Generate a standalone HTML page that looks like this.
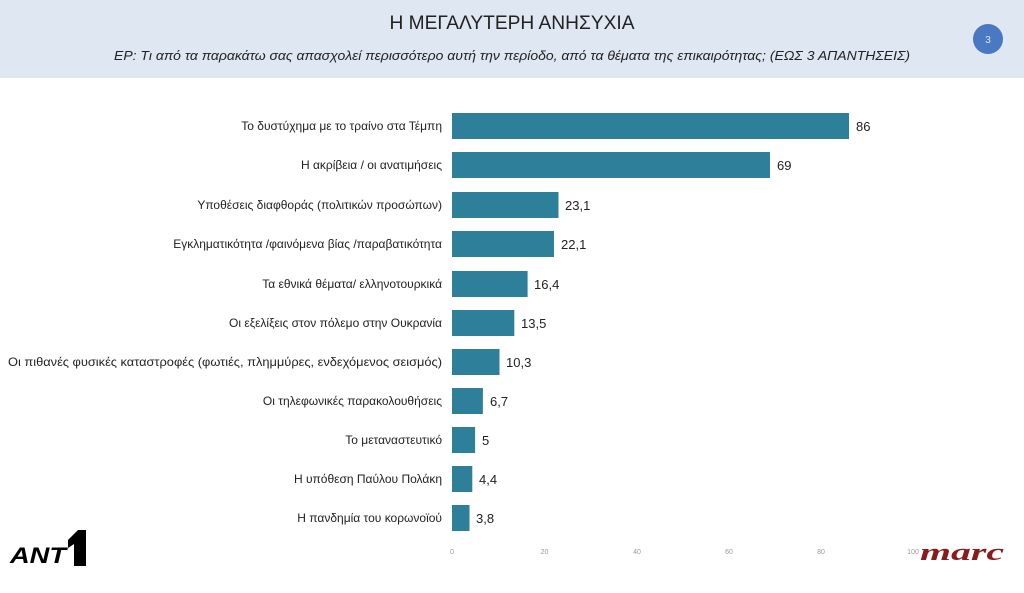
<!DOCTYPE html>
<html><head><meta charset="utf-8"><style>
html,body{margin:0;padding:0;background:#fff;}
svg{display:block;font-family:"Liberation Sans","DejaVu Sans",sans-serif;}
</style></head><body>
<svg width="1024" height="593" viewBox="0 0 1024 593" xmlns="http://www.w3.org/2000/svg">
<rect x="0" y="0" width="1024" height="78" fill="#dfe7f2"/>
<text x="512" y="29" text-anchor="middle" font-size="19" fill="#222" textLength="245" lengthAdjust="spacingAndGlyphs">Η ΜΕΓΑΛΥΤΕΡΗ ΑΝΗΣΥΧΙΑ</text>
<text x="512" y="60" text-anchor="middle" font-size="12.5" font-style="italic" fill="#222" textLength="796" lengthAdjust="spacingAndGlyphs">ΕΡ:  Τι από τα παρακάτω σας απασχολεί περισσότερο αυτή την περίοδο, από τα θέματα της επικαιρότητας; (ΕΩΣ 3 ΑΠΑΝΤΗΣΕΙΣ)</text>
<circle cx="988" cy="39" r="15" fill="#4a78c2"/>
<text x="988" y="43" text-anchor="middle" font-size="10" fill="#dde6f5">3</text>
<g font-size="12" fill="#222">
<g text-anchor="end">
<text x="442" y="130">Το δυστύχημα με το τραίνο στα Τέμπη</text>
<text x="442" y="169">Η ακρίβεια / οι ανατιμήσεις</text>
<text x="442" y="209">Υποθέσεις διαφθοράς (πολιτικών προσώπων)</text>
<text x="442" y="248">Εγκληματικότητα /φαινόμενα βίας /παραβατικότητα</text>
<text x="442" y="288">Τα εθνικά θέματα/ ελληνοτουρκικά</text>
<text x="442" y="327">Οι εξελίξεις στον  πόλεμο στην Ουκρανία</text>
<text x="442" y="366" textLength="434" lengthAdjust="spacingAndGlyphs">Οι πιθανές φυσικές καταστροφές (φωτιές, πλημμύρες, ενδεχόμενος σεισμός)</text>
<text x="442" y="405">Οι τηλεφωνικές παρακολουθήσεις</text>
<text x="442" y="444">Το μεταναστευτικό</text>
<text x="442" y="483">Η υπόθεση Παύλου Πολάκη</text>
<text x="442" y="522">Η πανδημία του κορωνοϊού</text>
</g>
<g fill="#2e7f9a">
<rect x="452" y="113" width="397" height="26"/>
<rect x="452" y="152" width="318" height="26"/>
<rect x="452" y="192" width="106.5" height="26"/>
<rect x="452" y="231" width="102" height="26"/>
<rect x="452" y="271" width="75.6" height="26"/>
<rect x="452" y="310" width="62.3" height="26"/>
<rect x="452" y="349" width="47.5" height="26"/>
<rect x="452" y="388" width="30.9" height="26"/>
<rect x="452" y="427" width="23.1" height="26"/>
<rect x="452" y="466" width="20.3" height="26"/>
<rect x="452" y="505" width="17.5" height="26"/>
</g>
<g font-size="13">
<text x="856" y="131">86</text>
<text x="777" y="170">69</text>
<text x="565" y="210">23,1</text>
<text x="561" y="249">22,1</text>
<text x="534" y="289">16,4</text>
<text x="521" y="328">13,5</text>
<text x="506" y="367">10,3</text>
<text x="490" y="406">6,7</text>
<text x="482" y="445">5</text>
<text x="479" y="484">4,4</text>
<text x="476" y="523">3,8</text>
</g>
</g>
<g font-size="7" fill="#999" text-anchor="middle">
<text x="452" y="554">0</text><text x="544.5" y="554">20</text><text x="637" y="554">40</text>
<text x="729" y="554">60</text><text x="821" y="554">80</text><text x="913" y="554">100</text>
</g>
<text x="10" y="563" font-size="22" font-weight="bold" font-style="italic" fill="#000" textLength="56" lengthAdjust="spacingAndGlyphs">ΑΝΤ</text>
<polygon points="68,540 78,530 86,530 86,566 74,566 74,544 68,548" fill="#000"/>
<text x="920" y="560" font-family="Liberation Serif,serif" font-size="24" font-style="italic" font-weight="bold" fill="#8b1a1a" textLength="84" lengthAdjust="spacingAndGlyphs">marc</text>
</svg>
</body></html>
